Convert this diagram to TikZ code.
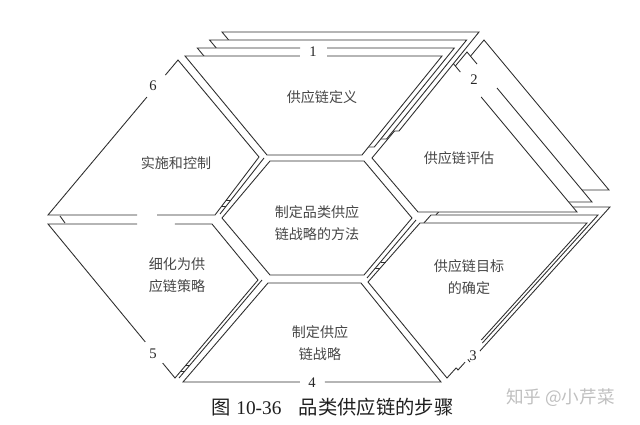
\documentclass[tikz,border=0pt]{standalone}
\usepackage{fontspec}
\setmainfont{Liberation Serif}
\newfontfamily\cjk{Noto Sans CJK SC}
\usetikzlibrary{calc}
\tikzset{
  ln/.style={draw=black!82, line width=0.75pt, line join=miter},
  sheet/.style={fill=white, draw=black!82, line width=0.75pt, line join=miter},
  blank/.style={fill=white},
  piecetext/.style={font=\cjk\fontsize{12}{18.5}\selectfont, text=black!72, align=center, inner sep=0pt},
  num/.style={font=\fontsize{12.5}{14}\selectfont, text=black!85, inner sep=0pt},
  captext/.style={font=\fontsize{16.5}{18}\selectfont, text=black!88, inner sep=0pt, anchor=west},
  wmtext/.style={font=\cjk\fontsize{15}{16}\selectfont, text=black!25, inner sep=0pt, anchor=west}
}
\begin{document}
\begin{tikzpicture}[x=0.03cm,y=-0.03cm]
\useasboundingbox (0,0) rectangle (640,425);

% ===== segment 3 (lower right): back sheets then front
\coordinate (s3ca) at (443,207); \coordinate (s3cb) at (610,207);
\coordinate (s3cc) at (470,362); \coordinate (s3cd) at (391,266);
\fill[blank] (s3ca)--(s3cb)--(s3cc)--(s3cd)--cycle;
\draw[ln] (s3cc)--(s3cd)--(s3ca)--(s3cb)--($(s3cb)!0.929!(s3cc)$);

\coordinate (s3ba) at (431,215); \coordinate (s3bb) at (598,215);
\coordinate (s3bc) at (458,370); \coordinate (s3bd) at (379,274);
\fill[blank] (s3ba)--(s3bb)--(s3bc)--(s3bd)--cycle;
\draw[ln] ($(s3bb)!0.95!(s3bc)$)--(s3bc)--(s3bd)--(s3ba)--(s3bb)--($(s3bb)!0.826!(s3bc)$);

\coordinate (s3a) at (420,223); \coordinate (s3b) at (587,223);
\coordinate (s3c) at (447,378); \coordinate (s3d) at (368,282);
\fill[blank] (s3a)--(s3b)--(s3c)--(s3d)--cycle;
\draw[ln] ($(s3b)!0.935!(s3c)$)--(s3c)--(s3d)--(s3a)--(s3b)--($(s3b)!0.755!(s3c)$);

% ===== segment 2 (upper right)
\coordinate (s2ca) at (484,40); \coordinate (s2cb) at (609,190);
\coordinate (s2cc) at (450,190); \coordinate (s2cd) at (404,136);
\filldraw[sheet] (s2ca)--(s2cb)--(s2cc)--(s2cd)--cycle;

\coordinate (s2ba) at (467,52); \coordinate (s2bb) at (592,202);
\coordinate (s2bc) at (433,202); \coordinate (s2bd) at (387,148);
\fill[blank] (s2ba)--(s2bb)--(s2bc)--(s2bd)--cycle;
\draw[ln] ($(s2ba)!0.24!(s2bb)$)--(s2bb)--(s2bc)--(s2bd)--(s2ba)--($(s2ba)!0.08!(s2bb)$);

\coordinate (s2a) at (452,62); \coordinate (s2b) at (577,212);
\coordinate (s2c) at (418,212); \coordinate (s2d) at (372,158);
\fill[blank] (s2a)--(s2b)--(s2c)--(s2d)--cycle;
\draw[ln] ($(s2a)!0.233!(s2b)$)--(s2b)--(s2c)--(s2d)--(s2a)--($(s2a)!0.067!(s2b)$);

% ===== segment 1 (top)
\filldraw[sheet] (222,32)--(479,32)--(399,131)--(304,131)--cycle;
\filldraw[sheet] (209.6,40)--(466.6,40)--(386.6,139)--(291.6,139)--cycle;

\coordinate (s1ba) at (197.3,48); \coordinate (s1bb) at (454.3,48);
\coordinate (s1bc) at (374.3,147); \coordinate (s1bd) at (279.3,147);
\fill[blank] (s1ba)--(s1bb)--(s1bc)--(s1bd)--cycle;
\draw[ln] ($(s1ba)!0.505!(s1bb)$)--(s1bb)--(s1bc)--(s1bd)--(s1ba)--($(s1ba)!0.4!(s1bb)$);

\coordinate (s1a) at (185,56); \coordinate (s1b) at (442,56);
\coordinate (s1c) at (362,155); \coordinate (s1d) at (267,155);
\fill[blank] (s1a)--(s1b)--(s1c)--(s1d)--cycle;
\draw[ln] ($(s1a)!0.553!(s1b)$)--(s1b)--(s1c)--(s1d)--(s1a)--($(s1a)!0.447!(s1b)$);

% ===== segment 4 (bottom)
\coordinate (s4a) at (183,382); \coordinate (s4b) at (441,382);
\coordinate (s4c) at (361,283); \coordinate (s4d) at (268,283);
\fill[blank] (s4a)--(s4b)--(s4c)--(s4d)--cycle;
\draw[ln] ($(s4a)!0.55!(s4b)$)--(s4b)--(s4c)--(s4d)--(s4a)--($(s4a)!0.453!(s4b)$);

% ===== segment 5 (lower left)
\coordinate (s5a) at (48,224); \coordinate (s5b) at (212,224);
\coordinate (s5c) at (258,280); \coordinate (s5d) at (175,378);
\fill[blank] (s5a)--(s5b)--(s5c)--(s5d)--cycle;
\draw[ln] ($(s5a)!0.774!(s5b)$)--(s5b)--(s5c)--(s5d)--($(s5d)!0.097!(s5a)$)
          ($(s5d)!0.234!(s5a)$)--(s5a)--($(s5a)!0.543!(s5b)$);

% ===== segment 6 (upper left)
\coordinate (s6a) at (178,60); \coordinate (s6b) at (259,157);
\coordinate (s6c) at (215,215); \coordinate (s6d) at (48,215);
\fill[blank] (s6a)--(s6b)--(s6c)--(s6d)--cycle;
\draw[ln] ($(s6a)!0.239!(s6d)$)--(s6d)--($(s6d)!0.533!(s6c)$)
          ($(s6d)!0.653!(s6c)$)--(s6c)--(s6b)--(s6a)--($(s6a)!0.097!(s6d)$);

% ===== centre hexagon
\filldraw[sheet] (270,161)--(364,161)--(412,218)--(364,275)--(270,275)--(222,218)--cycle;

% ===== thin back-sheet edges in the gaps
\draw[ln] (264,158)--(220,214);
\draw[ln] (226.4,200)--(231,200) (221.8,206)--(226.3,206);
\draw[ln] (262,280)--(179,378);
\draw[ln] (186,365)--(190,365) (181,371)--(185,371);
\draw[ln] (416,220)--(367,278);
\draw[ln] (380.5,262)--(385.6,262) (375.4,268)--(380.3,268);
\draw[ln] (60,216)--(65,223);

% ===== texts
\node[piecetext] (t1) at (322,97) {供应链定义};
\node[piecetext] (t2) at (459,158) {供应链评估};
\node[piecetext] (t3) at (469,277) {供应链目标\\的确定};
\node[piecetext] (t4) at (320,343) {制定供应\\链战略};
\node[piecetext] (t5) at (177,275) {细化为供\\应链策略};
\node[piecetext] (t6) at (176,163) {实施和控制};
\node[piecetext] (t0) at (317,223) {制定品类供应\\链战略的方法};

\node[num] (n1) at (313,52) {1};
\node[num] (n2) at (474,80) {2};
\node[num] (n3) at (473,356) {3};
\node[num] (n4) at (312,383) {4};
\node[num] (n5) at (153,354) {5};
\node[num] (n6) at (153,86) {6};

\node[captext] (cap) at (211,407) {{\cjk 图}\hspace{0.3em}10-36\hspace{0.9em}{\cjk 品类供应链的步骤}};
\node[wmtext] (wm) at (506,398) {知乎 @小芹菜};
\end{tikzpicture}
\end{document}
